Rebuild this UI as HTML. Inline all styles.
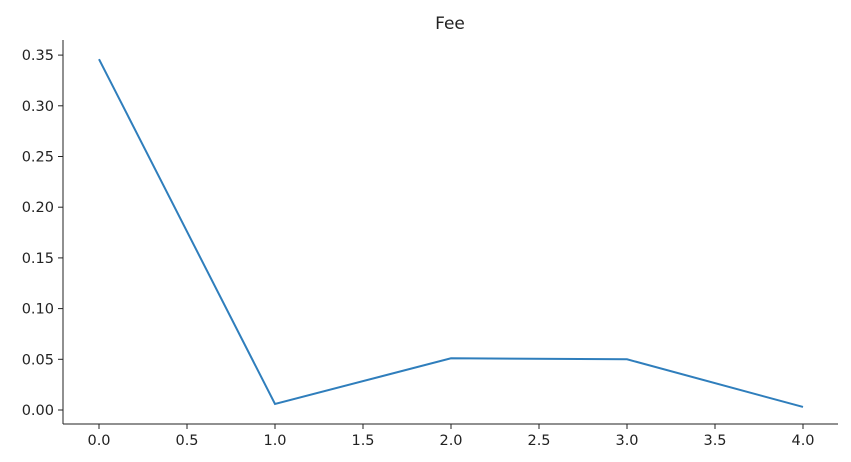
<!DOCTYPE html>
<html><head><meta charset="utf-8"><style>
body{margin:0;background:#fff;}
svg{display:block;font-family:"DejaVu Sans","Liberation Sans",sans-serif;}
</style></head><body>
<svg id="chart" width="851" height="462" viewBox="0 0 851 462">
<text x="450" y="29" text-anchor="middle" font-size="17" fill="#222">Fee</text>
<g id="axes"></g>
</svg>
<script>
const xValues = [0, 1, 2, 3, 4];
const feeValues = [0.346, 0.006, 0.051, 0.050, 0.003];
const xTicks = [0, 0.5, 1, 1.5, 2, 2.5, 3, 3.5, 4];
const yTicks = [0, 0.05, 0.10, 0.15, 0.20, 0.25, 0.30, 0.35];
const NS = 'http://www.w3.org/2000/svg';
const g = document.getElementById('axes');
const X = v => 99 + v * 176;
const Y = v => 410 - v * 1014;
function mk(t, a){const e=document.createElementNS(NS,t);for(const k in a)e.setAttribute(k,a[k]);g.appendChild(e);return e;}
let s = mk('line',{x1:63,y1:40,x2:63,y2:424,stroke:'#222','stroke-width':1});


s = mk('line',{x1:63,y1:424,x2:838,y2:424,stroke:'#222','stroke-width':1});


xTicks.forEach(v=>{
  const l=mk('line',{x1:X(v),y1:424,x2:X(v),y2:429,stroke:'#222'});
  
  
  const t=mk('text',{x:X(v),y:445,'text-anchor':'middle','font-size':14.5,fill:'#222'});
  t.textContent=v.toFixed(1);
  
  
});
yTicks.forEach(v=>{
  const l=mk('line',{x1:58,y1:Y(v),x2:63,y2:Y(v),stroke:'#222'});
  
  
  const t=mk('text',{x:54,y:Y(v)+5,'text-anchor':'end','font-size':14.5,fill:'#222'});
  t.textContent=v.toFixed(2);
  
  
});
const p=mk('polyline',{points:xValues.map((x,i)=>X(x)+','+Y(feeValues[i])).join(' '),fill:'none',stroke:'#2f7ebc','stroke-width':2});


</script>
</body></html>
